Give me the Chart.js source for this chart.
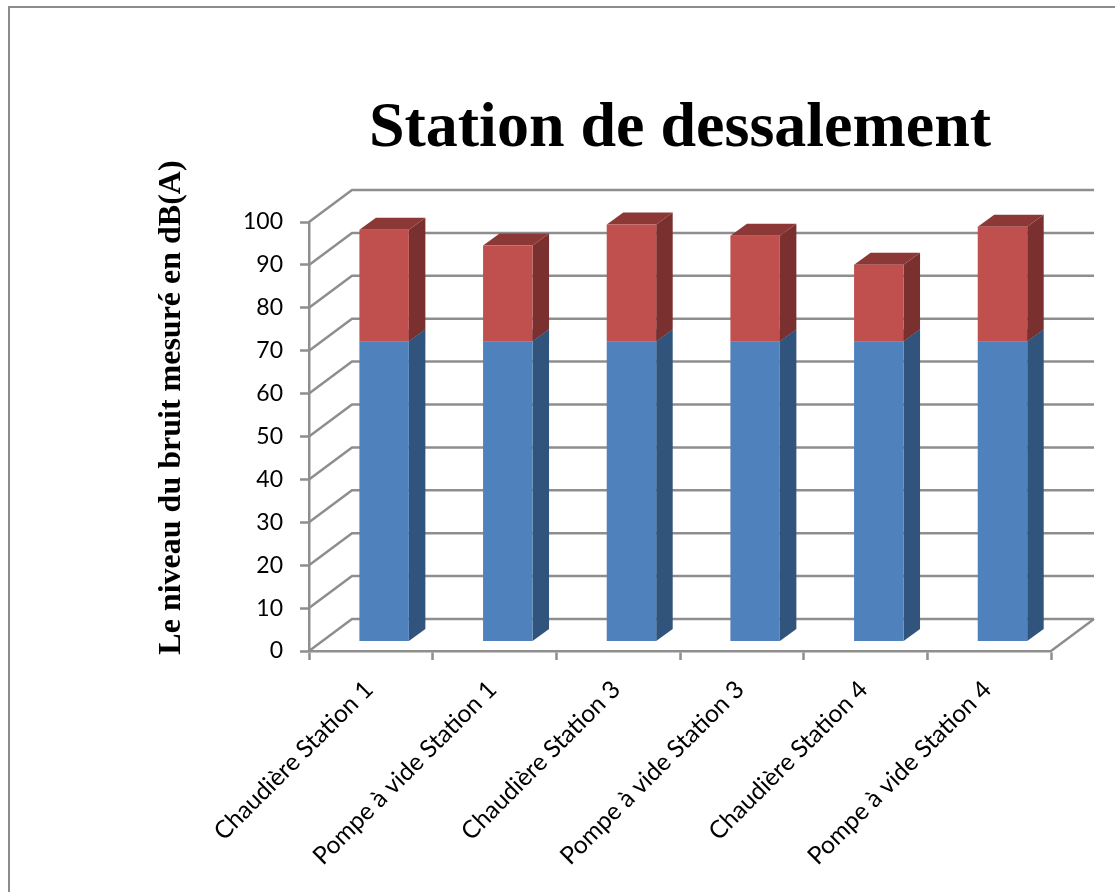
<!DOCTYPE html>
<html>
<head>
<meta charset="utf-8">
<title>Station de dessalement</title>
<script src="https://cdn.jsdelivr.net/npm/chart.js@4"></script>
<style>
  html, body { margin: 0; padding: 0; background: #fff; overflow: hidden; }
  #frame { position: absolute; left: 8px; top: 6px; width: 1200px; height: 1000px; border-left: 2px solid #8c8c8c; border-top: 2px solid #8c8c8c; }
  canvas { position: absolute; left: 0; top: 0; }
</style>
</head>
<body>
<div id="frame"></div>
<canvas id="noiseChart" width="1115" height="892"></canvas>
<script>
const categories = ['Chaudière Station 1', 'Pompe à vide Station 1', 'Chaudière Station 3', 'Pompe à vide Station 3', 'Chaudière Station 4', 'Pompe à vide Station 4'];
const limitValues = [70, 70, 70, 70, 70, 70];
const excessValues = [26, 22.3, 27.2, 24.6, 17.8, 26.7];
const chartTitle = 'Station de dessalement';
const yAxisTitle = 'Le niveau du bruit mesuré en dB(A)';

const gridColor = '#8e8e8e';
const depthX = 43, depthY = 32;      // wall depth
const barShiftX = 13.3, barShiftY = 9.5; // bars stand inside the floor
const barDepthX = 16.5, barDepthY = 12;

// fake 3D: walls behind, side and top faces on the bars
const fake3d = {
  id: 'fake3d',
  beforeDatasetsDraw(chart) {
    const { ctx, scales } = chart;
    const left = scales.x.left, right = scales.x.right;

    ctx.save();
    ctx.strokeStyle = gridColor;
    ctx.lineWidth = 2.5;
    scales.y.ticks.forEach(t => {
      const y = scales.y.getPixelForValue(t.value);
      ctx.beginPath();
      ctx.moveTo(left, y);
      ctx.lineTo(left + depthX, y - depthY);
      ctx.lineTo(right + depthX, y - depthY);
      ctx.stroke();
    });
    const y0 = scales.y.getPixelForValue(0);
    ctx.beginPath();
    ctx.moveTo(right, y0);
    ctx.lineTo(right + depthX, y0 - depthY);
    ctx.stroke();
    ctx.restore();

    // axis title sits higher than the middle of the axis, so not the scale's own title
    ctx.save();
    ctx.translate(172, 407.5);
    ctx.rotate(-Math.PI / 2);
    ctx.font = 'bold 32px "Liberation Serif"';
    ctx.fillStyle = '#000';
    ctx.textAlign = 'center';
    ctx.textBaseline = 'middle';
    ctx.fillText(yAxisTitle, 0, 0);
    ctx.restore();

    ctx.save();
    ctx.translate(barShiftX, -barShiftY);
    chart.data.datasets.forEach((ds, i) => {
      chart.getDatasetMeta(i).data.forEach(bar => {
        const r = bar.x + bar.width / 2, l = bar.x - bar.width / 2;
        ctx.fillStyle = ds.sideColor;
        ctx.beginPath();
        ctx.moveTo(r, bar.base);
        ctx.lineTo(r + barDepthX, bar.base - barDepthY);
        ctx.lineTo(r + barDepthX, bar.y - barDepthY);
        ctx.lineTo(r, bar.y);
        ctx.closePath();
        ctx.fill();
        ctx.fillStyle = ds.topColor;
        ctx.beginPath();
        ctx.moveTo(l, bar.y);
        ctx.lineTo(l + barDepthX, bar.y - barDepthY);
        ctx.lineTo(r + barDepthX, bar.y - barDepthY);
        ctx.lineTo(r, bar.y);
        ctx.closePath();
        ctx.fill();
      });
    });
    // left on the stack, afterDatasetsDraw takes it off
  },
  afterDatasetsDraw(chart) {
    chart.ctx.restore();
  }
};

new Chart(document.getElementById('noiseChart'), {
  type: 'bar',
  data: {
    labels: categories,
    datasets: [
      { label: 'Limite', data: limitValues, backgroundColor: '#4f81bd', sideColor: '#31547c', topColor: '#3e6797' },
      { label: 'Dépassement', data: excessValues, backgroundColor: '#c0504d', sideColor: '#7a302e', topColor: '#8b3836' }
    ]
  },
  options: {
    responsive: false,
    animation: false,
    devicePixelRatio: 1,
    categoryPercentage: 1,
    barPercentage: 0.4,
    layout: { padding: { left: 0, right: 64, top: 0, bottom: 0 } },
    plugins: {
      legend: { display: false },
      tooltip: { enabled: false },
      title: {
        display: true,
        text: chartTitle,
        fullSize: false,
        color: '#000',
        font: { family: 'Liberation Serif', size: 64, weight: 'bold' },
        padding: { top: 91, bottom: 54.2 }
      }
    },
    scales: {
      x: {
        stacked: true,
        afterFit(s) { s.height = 241; },
        grid: { drawOnChartArea: false, tickLength: 9, tickColor: gridColor, tickWidth: 2.5 },
        border: { color: gridColor, width: 2.5 },
        ticks: {
          autoSkip: false, minRotation: 45, maxRotation: 45,
          labelOffset: -2, padding: 15,
          color: '#000',
          font: { family: 'Lato', size: 24.5 }
        }
      },
      y: {
        stacked: true,
        min: 0,
        max: 100,
        afterFit(s) { s.width = 309; },
        grid: { drawOnChartArea: false, tickLength: 9, tickColor: gridColor, tickWidth: 2.5 },
        border: { color: gridColor, width: 2.5 },
        ticks: {
          stepSize: 10, padding: 17,
          color: '#000',
          font: { family: 'Lato', size: 23 }
        }
      }
    }
  },
  plugins: [fake3d]
});
</script>
</body>
</html>
